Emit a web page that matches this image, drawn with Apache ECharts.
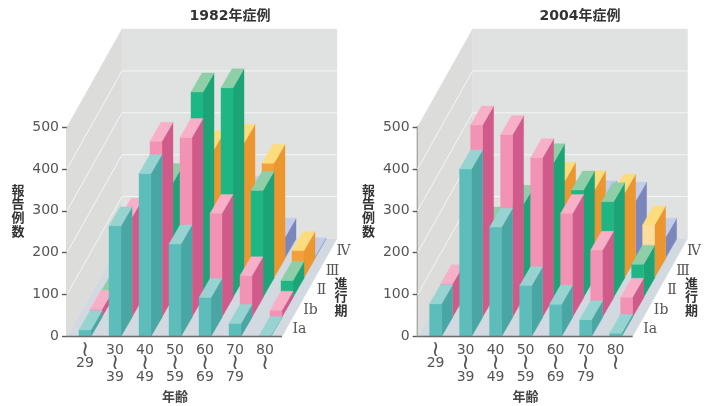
<!DOCTYPE html>
<html>
<head>
<meta charset="utf-8">
<style>html,body{margin:0;padding:0;background:#fff}#chart{width:710px;height:406px}</style>
<script src="https://cdn.jsdelivr.net/npm/echarts@6/dist/echarts.min.js"></script>
</head>
<body>
<div id="chart"></div>
<script>
// Reported cases by age band and disease stage
const ageLabels = ['\u2240\n29', '30\n\u2240\n39', '40\n\u2240\n49', '50\n\u2240\n59', '60\n\u2240\n69', '70\n\u2240\n79', '80\n\u2240'];
const stageLabels = ['\u2160a', '\u2160b', '\u2161', '\u2162', '\u2163'];
const yTicks = [100, 200, 300, 400];

const y1982Ia  = [16, 264, 389, 221, 93, 31, 2];
const y1982Ib  = [18, 238, 419, 428, 247, 98, 16];
const y1982II  = [14, 160, 274, 490, 500, 255, 40];
const y1982III = [8, 100, 200, 306, 321, 273, 65];
const y1982IV  = [4, 30, 60, 100, 150, 50, 3];

const y2004Ia  = [78, 400, 261, 121, 77, 40, 8];
const y2004Ib  = [79, 458, 435, 380, 247, 159, 47];
const y2004II  = [20, 170, 222, 321, 256, 228, 79];
const y2004III = [10, 90, 120, 230, 210, 202, 126];
const y2004IV  = [5, 40, 70, 140, 139, 136, 50];

const stageColors = [
  { front: '#5cbdba', side: '#4aa6a3', top: '#97d4d1' },
  { front: '#f292b4', side: '#d05b8b', top: '#f7b0c8' },
  { front: '#1fb686', side: '#1ca477', top: '#8ecfa8' },
  { front: '#f1a03c', side: '#ec962f', top: '#fcdc7c' },
  { front: '#b8c2e2', side: '#7b86bd', top: '#c3cce9' }
];
const paleStageFront = '#fddd9e';

// Oblique projection: a full step back along the depth axis, in pixels
const DEPTH_DX = 55, DEPTH_DY = -98, STAGES = 5;
const BAR_FRACTION = 0.4;
const STEP_DX = DEPTH_DX / STAGES, STEP_DY = DEPTH_DY / STAGES;
const BAR_DX = 11, BAR_DY = -19;

function quad(points, fill) {
  return { type: 'polygon', shape: { points }, style: { fill, stroke: fill, lineWidth: 0.4 } };
}

function barRenderer(stage, paleCategory) {
  const col = stageColors[stage];
  return function (params, api) {
    const c = api.value(0);
    const base = api.coord([c, 0]);
    const top = api.coord([c, api.value(1)]);
    const w = api.size([1, 0])[0] * BAR_FRACTION;
    const x0 = base[0] - w / 2 + stage * STEP_DX, x1 = x0 + w;
    const yb = base[1] + stage * STEP_DY, yt = top[1] + stage * STEP_DY;
    return {
      type: 'group',
      children: [
        quad([[x1, yb], [x1 + BAR_DX, yb + BAR_DY], [x1 + BAR_DX, yt + BAR_DY], [x1, yt]], col.side),
        quad([[x0, yb], [x1, yb], [x1, yt], [x0, yt]], c === paleCategory ? paleStageFront : col.front),
        quad([[x0, yt], [x1, yt], [x1 + BAR_DX, yt + BAR_DY], [x0 + BAR_DX, yt + BAR_DY]], col.top)
      ]
    };
  };
}

// Floor, side wall, back wall and their white grid lines
function wallsRenderer(params, api) {
  const size = api.size([1, 0])[0];
  const o = api.coord([0, 0]), t = api.coord([0, 500]);
  const xl = o[0] - size / 2 - 3, xr = xl + size * ageLabels.length + 5;
  const yb = o[1], yt = t[1];
  const children = [
    quad([[xl, yb], [xr, yb], [xr + DEPTH_DX, yb + DEPTH_DY], [xl + DEPTH_DX, yb + DEPTH_DY]], '#d2d9e0'),
    quad([[xl, yb], [xl + DEPTH_DX, yb + DEPTH_DY], [xl + DEPTH_DX, yt + DEPTH_DY], [xl, yt]], '#dcdcdb'),
    quad([[xl + DEPTH_DX, yb + DEPTH_DY], [xr + DEPTH_DX, yb + DEPTH_DY], [xr + DEPTH_DX, yt + DEPTH_DY], [xl + DEPTH_DX, yt + DEPTH_DY]], '#e0e2e2')
  ];
  yTicks.forEach(function (v) {
    const y = api.coord([0, v])[1];
    children.push({
      type: 'polyline',
      shape: { points: [[xl, y], [xl + DEPTH_DX, y + DEPTH_DY], [xr + DEPTH_DX, y + DEPTH_DY]] },
      style: { fill: 'none', stroke: '#f4f5f5', lineWidth: 1 }
    });
  });
  return { type: 'group', children };
}

// Front baseline and the stage names beside the floor edge
function frontRenderer(params, api) {
  const size = api.size([1, 0])[0];
  const o = api.coord([0, 0]);
  const xl = o[0] - size / 2 - 3, xr = xl + size * ageLabels.length + 5;
  const children = [{
    type: 'line',
    shape: { x1: xl, y1: o[1], x2: xr, y2: o[1] },
    style: { stroke: '#6a6a6a', lineWidth: 1.4 }
  }];
  stageLabels.forEach(function (s, i) {
    children.push({
      type: 'text',
      style: {
        x: xr + (i + 0.5) * STEP_DX + 12,
        y: o[1] + (i + 0.5) * STEP_DY + 3,
        text: s,
        fill: '#555',
        font: '14px "DejaVu Serif"',
        align: 'center',
        verticalAlign: 'middle'
      }
    });
  });
  return { type: 'group', children };
}

const panels = [
  { title: '1982\u5e74\u75c7\u4f8b', titleX: 230, left: 70, paleCategory: -1, stages: [y1982Ia, y1982Ib, y1982II, y1982III, y1982IV] },
  { title: '2004\u5e74\u75c7\u4f8b', titleX: 580, left: 420.6, paleCategory: 6, stages: [y2004Ia, y2004Ib, y2004II, y2004III, y2004IV] }
];

const axisColor = '#5a5a5a';
const sideText = { font: 'bold 13px "Noto Sans CJK JP"', fill: '#333', align: 'center', lineHeight: 13.6 };
const option = {
  animation: false,
  backgroundColor: '#fff',
  title: panels.map(p => ({
    text: p.title, left: p.titleX, top: 9, padding: 0, textAlign: 'center',
    textStyle: { fontFamily: '"DejaVu Sans","Noto Sans CJK JP"', fontSize: 14, fontWeight: 'bold', color: '#333' }
  })),
  grid: panels.map(p => ({ left: p.left, width: 210, top: 127, height: 209.5, outerBoundsMode: 'none' })),
  xAxis: panels.map((p, i) => ({
    type: 'category', gridIndex: i, data: ageLabels,
    name: '\u5e74\u9f62', nameLocation: 'middle', nameGap: 53,
    nameTextStyle: { fontFamily: '"Noto Sans CJK JP"', fontSize: 13, fontWeight: 'bold', color: '#444' },
    axisLine: { show: false }, axisTick: { show: false },
    axisLabel: {
      interval: 0, margin: 7, color: '#555', fontFamily: 'DejaVu Sans', fontSize: 14, lineHeight: 13.5, verticalAlign: 'top',
      formatter: v => v.split('\n').map(l => l === '\u2240' ? '{w|\u2240}' : '{n|' + l + '}').join('\n'),
      rich: {
        n: { color: '#555', fontFamily: 'DejaVu Sans', fontSize: 14, lineHeight: 13.5 },
        w: { color: '#555', fontFamily: 'DejaVu Sans', fontSize: 22, lineHeight: 13.5 }
      }
    }
  })),
  yAxis: panels.map((p, i) => ({
    type: 'value', gridIndex: i, min: 0, max: 500, interval: 100, offset: 3,
    splitLine: { show: false },
    axisLine: { show: true, lineStyle: { color: axisColor, width: 1.4 } },
    axisTick: { show: true, length: 5, lineStyle: { color: axisColor, width: 1.4 } },
    axisLabel: { margin: 8, color: '#555', fontFamily: 'DejaVu Sans', fontSize: 14 }
  })),
  graphic: panels.flatMap(p => [
    { type: 'text', x: p.left - 52, y: 183, style: Object.assign({ text: '\u5831\n\u544a\n\u4f8b\n\u6570' }, sideText) },
    { type: 'text', x: p.left + 271, y: 276, style: Object.assign({ text: '\u9032\n\u884c\n\u671f' }, sideText) }
  ]),
  series: panels.flatMap((p, i) => {
    const one = [[0, 0]];
    const list = [{ type: 'custom', xAxisIndex: i, yAxisIndex: i, z: 1, silent: true, data: one, renderItem: wallsRenderer }];
    for (let s = STAGES - 1; s >= 0; s--) {
      list.push({
        type: 'custom', name: stageLabels[s], xAxisIndex: i, yAxisIndex: i, z: 2 + STAGES - s, silent: true,
        data: p.stages[s].map((v, c) => [c, v]), renderItem: barRenderer(s, s === 3 ? p.paleCategory : -1)
      });
    }
    list.push({ type: 'custom', xAxisIndex: i, yAxisIndex: i, z: 9, silent: true, data: one, renderItem: frontRenderer });
    return list;
  })
};

echarts.init(document.getElementById('chart')).setOption(option);
</script>
</body>
</html>
